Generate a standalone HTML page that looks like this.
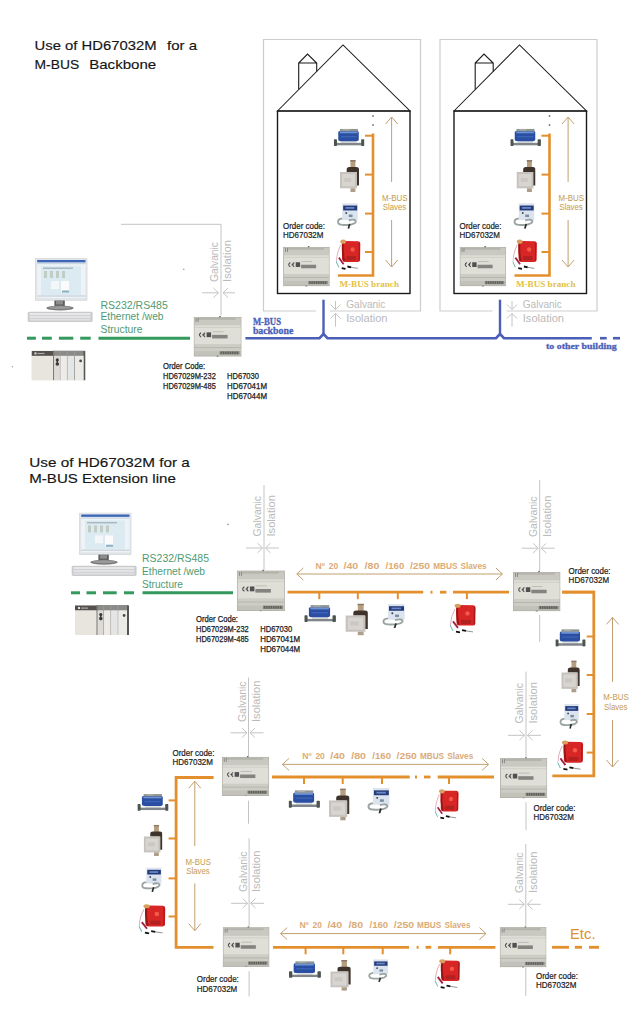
<!DOCTYPE html><html><head><meta charset="utf-8"><style>html,body{margin:0;padding:0;background:#fff;overflow:hidden}svg{display:block}</style></head><body>
<svg width="642" height="1024" viewBox="0 0 642 1024">
<defs>
<symbol id="dev" viewBox="0 0 48 41" preserveAspectRatio="none">
<rect x="0.5" y="1" width="47" height="39.5" fill="#cdcdc5"/>
<rect x="0.5" y="1" width="47" height="8.5" fill="#c9c9c1"/>
<rect x="4" y="1.8" width="38" height="2" fill="#b4b4ac"/>
<rect x="2" y="2" width="1" height="4" fill="#888"/><rect x="4" y="2" width="1" height="4" fill="#888"/>
<rect x="0.5" y="9.5" width="47" height="19" fill="#dfdfd8"/>
<rect x="0.5" y="11" width="47" height="1" fill="#cfcfc7"/>
<rect x="0.5" y="28.5" width="47" height="7" fill="#cdcdc5"/>
<rect x="0.5" y="31.5" width="47" height="0.8" fill="#b0b0a8"/>
<rect x="0.5" y="35.5" width="47" height="5" fill="#c2c2ba"/>
<rect x="25.5" y="-0.5" width="1.6" height="2" fill="#666"/>
<path d="M7.5 16.8 Q4 19 7.5 21.2 M11.5 16.8 Q8 19 11.5 21.2 M8.6 19 L11 19" stroke="#505050" stroke-width="1.1" fill="none"/>
<rect x="13" y="16.5" width="4.5" height="4.8" fill="#505050"/>
<rect x="18.5" y="19" width="15.5" height="3.6" fill="#84847e"/>
<rect x="19" y="15.5" width="11" height="0.8" fill="#b4b4ac"/>
<rect x="26" y="35.5" width="20" height="3.3" fill="#8a8a84"/>
<rect x="27.0" y="35.8" width="1.3" height="2.6" fill="#5e5e58"/><rect x="29.3" y="35.8" width="1.3" height="2.6" fill="#5e5e58"/><rect x="31.6" y="35.8" width="1.3" height="2.6" fill="#5e5e58"/><rect x="33.9" y="35.8" width="1.3" height="2.6" fill="#5e5e58"/><rect x="36.2" y="35.8" width="1.3" height="2.6" fill="#5e5e58"/><rect x="38.5" y="35.8" width="1.3" height="2.6" fill="#5e5e58"/><rect x="40.8" y="35.8" width="1.3" height="2.6" fill="#5e5e58"/><rect x="43.1" y="35.8" width="1.3" height="2.6" fill="#5e5e58"/>
<rect x="23" y="40" width="2" height="1.5" fill="#666"/>
<rect x="0" y="1" width="0.8" height="39.5" fill="#aeaea6"/>
<rect x="47.2" y="1" width="0.8" height="39.5" fill="#aeaea6"/>
<rect x="0" y="40" width="48" height="0.8" fill="#aeaea6"/>
<rect x="0" y="1" width="48" height="0.6" fill="#b0b0a8"/>
</symbol>
<symbol id="wm" viewBox="0 0 31 18" preserveAspectRatio="none">
<rect x="7.5" y="11.5" width="15.5" height="5" fill="#dfe1e4"/>
<rect x="2.5" y="14.5" width="25.5" height="2.5" fill="#80868a"/>
<rect x="0" y="10.8" width="3.2" height="7" rx="0.8" fill="#4c5450"/>
<rect x="27.6" y="10.8" width="3.3" height="7" rx="0.8" fill="#4c5450"/>
<path d="M4.5 4 Q4.5 2.5 6.5 2.5 L23.5 2.5 Q25.2 2.5 25.2 4 L25.2 11 Q25.2 12.8 23 12.8 L6.8 12.8 Q4.5 12.8 4.5 11 Z" fill="#2a4fa2"/>
<rect x="6" y="3" width="18" height="1.8" fill="#7094d2"/>
<rect x="7" y="7.5" width="16" height="1.4" fill="#3c64b6"/>
<rect x="6.2" y="0.4" width="18.2" height="2.3" fill="#8e9490"/>
<rect x="9" y="0.8" width="7" height="1.1" fill="#b0b4ae"/>
</symbol>
<symbol id="hm" viewBox="0 0 18.5 32" preserveAspectRatio="none">
<rect x="10.2" y="0.3" width="4.8" height="7.5" fill="#b69e80"/>
<rect x="10" y="0" width="5.2" height="1.6" fill="#8c7a66"/>
<path d="M6.5 12 L6.5 9.5 Q6.5 7 9 7 L16 7 Q18.5 7 18.5 9.5 L18.5 25.5 L15.8 25.5 L15.8 12 Z" fill="#3e342c"/>
<rect x="0" y="12" width="16.5" height="16.3" fill="#c6c2be"/>
<rect x="2" y="14" width="12.5" height="12.3" fill="#d8d4d0"/>
<rect x="4" y="18" width="7" height="4" fill="#cbc7c3"/>
<rect x="10.2" y="28.3" width="4.8" height="3.7" fill="#ae9e8a"/>
</symbol>
<symbol id="hc" viewBox="0 0 26 26.5" preserveAspectRatio="none">
<rect x="7" y="0.5" width="16.6" height="17" fill="#dae3ee"/>
<rect x="8" y="2.8" width="15" height="5" fill="#263c7a"/>
<rect x="10.5" y="4.3" width="9.5" height="1.8" fill="#6a88c4"/>
<circle cx="11.3" cy="10.5" r="1" fill="#345"/>
<rect x="14" y="12" width="4" height="2.5" fill="#7a8a9a"/>
<path d="M7 16 C1 16.5 1 22.5 7 22.5 C12 23 20 22.5 21.5 19.5 C22 17 18 16.5 14 18" stroke="#9aa4a2" stroke-width="2" fill="none"/>
<path d="M15 21.5 L13.5 26.4" stroke="#2a2a2a" stroke-width="1.8"/>
</symbol>
<symbol id="rd" viewBox="0 0 26.3 30.6" preserveAspectRatio="none">
<path d="M6.4 4.5 Q6.4 2.2 9 2.2 L23.5 2.4 Q25.6 2.6 25.6 5 L25.3 20.5 Q25.2 22.7 22.8 22.7 L10 22.7 Q6.4 22.7 6.4 19 Z" fill="#d82626"/><path d="M24.5 4 L24.3 21.5" stroke="#a81818" stroke-width="1.2"/>
<path d="M7.3 4 Q6.5 12 8.5 22" stroke="#9a1414" stroke-width="2" fill="none"/>
<rect x="11" y="17" width="10" height="4" fill="#b32020"/>
<circle cx="17.5" cy="10.5" r="2.2" fill="#f25a4a"/>
<ellipse cx="7.6" cy="2.9" rx="3" ry="2" fill="#d8a060"/>
<path d="M5 6 Q1 13 0.5 22" stroke="#e0b0b8" stroke-width="1" fill="none"/>
<path d="M3 18.5 L8 25" stroke="#a02040" stroke-width="1.8" fill="none"/>
<path d="M0 22 L3 28" stroke="#70b0b0" stroke-width="1" fill="none"/>
<path d="M6 28.8 L10 29.5" stroke="#111" stroke-width="1.8" fill="none"/>
<path d="M12 27.2 L16 28" stroke="#111" stroke-width="1.8" fill="none"/>
<path d="M16 28 L23 29" stroke="#777" stroke-width="0.8" fill="none"/>
</symbol>
<symbol id="pc" viewBox="0 0 66 64" preserveAspectRatio="none">
<rect x="8" y="0" width="52.4" height="42.8" rx="1" fill="#d3d7db"/>
<rect x="8.6" y="0.6" width="51.2" height="41.6" rx="1" fill="#e2e5e8"/>
<rect x="10.2" y="2" width="48.3" height="38" fill="#eef3f8"/>
<rect x="10.2" y="2" width="48.3" height="2.4" fill="#3f66b6"/>
<rect x="10.2" y="5" width="48.3" height="1.2" fill="#c8d4e0"/>
<rect x="14" y="8" width="40" height="29" fill="#dceaf2"/>
<rect x="16" y="9.5" width="30" height="1.5" fill="#a8b8c0"/>
<rect x="17" y="13" width="3" height="7" fill="#c0ccc4"/>
<rect x="23" y="13" width="3" height="7" fill="#c0ccc4"/>
<rect x="29" y="13" width="3" height="7" fill="#c0ccc4"/>
<rect x="35" y="13" width="3" height="7" fill="#c0ccc4"/>
<rect x="24" y="23" width="8" height="8" fill="#f4f6f8"/>
<rect x="34" y="23" width="8" height="11" fill="#fbfbfb"/>
<rect x="35" y="32.5" width="7" height="2" fill="#8ab0c0"/>
<rect x="10.2" y="37.5" width="48.3" height="1" fill="#c0c8d0"/>
<rect x="27.4" y="42.5" width="10.4" height="6.5" fill="#5c5c5c"/>
<rect x="29" y="43" width="7" height="3.5" fill="#8c8c8c"/>
<ellipse cx="33" cy="50.1" rx="13.6" ry="2.5" fill="#7c7c7c"/>
<ellipse cx="33" cy="49.6" rx="11" ry="1.5" fill="#9a9a9a"/>
<rect x="0.7" y="53.7" width="64.9" height="10.3" rx="1.5" fill="#c9cbcd"/>
<rect x="2.5" y="55" width="61" height="2.2" fill="#e8e8ea"/>
<rect x="2.5" y="58" width="61" height="2.2" fill="#e4e4e6"/>
<rect x="2.5" y="61" width="61" height="1.6" fill="#e0e0e2"/>
</symbol>
<symbol id="plc" viewBox="0 0 54 30" preserveAspectRatio="none">
<rect x="0" y="0.5" width="54" height="29.5" fill="#e2ded8"/>
<rect x="0" y="0.5" width="22" height="5" fill="#55504c"/>
<rect x="3" y="2" width="2" height="2" fill="#ddd"/>
<rect x="6" y="2.5" width="7" height="1.2" fill="#aaa"/>
<rect x="0" y="5.5" width="21.5" height="24.5" fill="#e8e4de"/>
<rect x="22" y="0" width="31" height="5.5" fill="#8a8a88"/>
<rect x="21.5" y="0" width="1.2" height="30" fill="#7a7a78"/>
<rect x="28.2" y="0" width="0.9" height="30" fill="#9a9a98"/>
<rect x="35.3" y="0" width="0.9" height="30" fill="#9a9a98"/>
<rect x="42.5" y="0" width="0.9" height="30" fill="#9a9a98"/>
<rect x="52" y="0.5" width="2" height="29.5" fill="#555553"/>
<rect x="22.7" y="5.5" width="5.5" height="24.5" fill="#dedad6"/>
<rect x="29.1" y="5.5" width="6.2" height="24.5" fill="#ecebe8"/>
<rect x="36.2" y="5.5" width="6.3" height="24.5" fill="#e4e6e6"/>
<rect x="43.4" y="5.5" width="8.6" height="24.5" fill="#eaeae6"/>
<circle cx="25.8" cy="9.5" r="1.6" fill="#3a3a3a"/>
<path d="M25.8 10 L25.8 13" stroke="#3a3a3a" stroke-width="1.4"/>
<circle cx="25.8" cy="13.6" r="1.8" fill="#3a3a3a"/>
<circle cx="49.1" cy="10.5" r="1.4" fill="#4a4a4a"/>
</symbol>
</defs>
<text style="white-space:pre" x="34.5" y="50.2" font-size="13.4" fill="#151515" font-weight="normal" font-family='"Liberation Sans", sans-serif' textLength="122" lengthAdjust="spacingAndGlyphs" stroke="#151515" stroke-width="0.15">Use of HD67032M</text>
<text style="white-space:pre" x="167" y="50.2" font-size="13.4" fill="#151515" font-weight="normal" font-family='"Liberation Sans", sans-serif' textLength="30" lengthAdjust="spacingAndGlyphs" stroke="#151515" stroke-width="0.15">for a</text>
<text style="white-space:pre" x="34.5" y="68.6" font-size="13.4" fill="#151515" font-weight="normal" font-family='"Liberation Sans", sans-serif' textLength="44.7" lengthAdjust="spacingAndGlyphs" stroke="#151515" stroke-width="0.15">M-BUS</text>
<text style="white-space:pre" x="89.2" y="68.6" font-size="13.4" fill="#151515" font-weight="normal" font-family='"Liberation Sans", sans-serif' textLength="67" lengthAdjust="spacingAndGlyphs" stroke="#151515" stroke-width="0.15">Backbone</text>
<g transform="translate(0,0)">
<path d="M316 311 L263.5 311 L263.5 39.5 L420.5 39.5 L420.5 311 L330 311" stroke="#cdcdcd" stroke-width="1.2" fill="none" />
<path d="M277.5 111 L343 45 L410 111 Z" stroke="#1a1a1a" stroke-width="1.05" fill="none" />
<rect x="277.5" y="111" width="132.5" height="182.5" fill="none" stroke="#1a1a1a" stroke-width="1.4"/>
<path d="M298.7 89.6 L298.7 63 L307.5 54 L316.7 63 L316.7 71.5 M298.7 63 L316.7 63" stroke="#1a1a1a" stroke-width="1.1" fill="none" />
<circle cx="373" cy="116" r="0.9" fill="#777"/><circle cx="373" cy="125" r="0.9" fill="#777"/>
<path d="M373 133.6 L373 275.5 L338 275.5" stroke="#e38f2e" stroke-width="2.6" fill="none" />
<line x1="365" y1="135.7" x2="373" y2="135.7" stroke="#e38f2e" stroke-width="2" />
<line x1="365" y1="174.6" x2="373" y2="174.6" stroke="#e38f2e" stroke-width="2" />
<line x1="365" y1="213.6" x2="373" y2="213.6" stroke="#e38f2e" stroke-width="2" />
<line x1="365" y1="252" x2="373" y2="252" stroke="#e38f2e" stroke-width="2" />
<use href="#wm" x="333.8" y="128.5" width="30.7" height="17.8"/>
<use href="#hm" x="340" y="160" width="19" height="32"/>
<use href="#hc" x="335.7" y="202.8" width="24.3" height="26"/>
<use href="#rd" x="336" y="238.7" width="25" height="31.3"/>
<path d="M391.6 182 L391.6 117 M385.6 124 L391.6 117 L397.6 124" stroke="#c2a070" stroke-width="1" fill="none" />
<path d="M391.6 220 L391.6 267 M385.6 260 L391.6 267 L397.6 260" stroke="#c2a070" stroke-width="1" fill="none" />
<text style="white-space:pre" x="382" y="201" font-size="9.5" fill="#c49a50" font-weight="normal" font-family='"Liberation Sans", sans-serif' textLength="25.5" lengthAdjust="spacingAndGlyphs" >M-BUS</text>
<text style="white-space:pre" x="382.7" y="209.8" font-size="9.5" fill="#c49a50" font-weight="normal" font-family='"Liberation Sans", sans-serif' textLength="23.5" lengthAdjust="spacingAndGlyphs" >Slaves</text>
<text style="white-space:pre" x="339.4" y="287" font-size="9.2" fill="#e2c244" font-weight="bold" font-family='"Liberation Serif", serif' textLength="59.6" lengthAdjust="spacingAndGlyphs" >M-BUS branch</text>
<text style="white-space:pre" x="283" y="229" font-size="9.6" fill="#1a1a1a" font-weight="normal" font-family='"Liberation Sans", sans-serif' textLength="42" lengthAdjust="spacingAndGlyphs" stroke="#1a1a1a" stroke-width="0.22">Order code:</text>
<text style="white-space:pre" x="283" y="238.4" font-size="9.6" fill="#1a1a1a" font-weight="normal" font-family='"Liberation Sans", sans-serif' textLength="40.5" lengthAdjust="spacingAndGlyphs" stroke="#1a1a1a" stroke-width="0.22">HD67032M</text>
<use href="#dev" x="283.1" y="246" width="46.6" height="40.4"/>
<text style="white-space:pre" x="346.3" y="308.4" font-size="11" fill="#bababa" font-weight="normal" font-family='"Liberation Sans", sans-serif' textLength="39" lengthAdjust="spacingAndGlyphs" >Galvanic</text>
<text style="white-space:pre" x="346.3" y="322" font-size="11" fill="#bababa" font-weight="normal" font-family='"Liberation Sans", sans-serif' textLength="41.2" lengthAdjust="spacingAndGlyphs" >Isolation</text>
<path d="M335.5 301 L335.5 309.5 M330.5 304.5 L335.5 309.5 L340.5 304.5" stroke="#c4c4c4" stroke-width="1" fill="none" />
<path d="M335.5 326.6 L335.5 313.4 M330.5 318.5 L335.5 313.4 L340.5 318.5" stroke="#c4c4c4" stroke-width="1" fill="none" />
<line x1="323.5" y1="299.7" x2="323.5" y2="334.5" stroke="#4b5fb8" stroke-width="2.4" />
</g>
<g transform="translate(176.5,0)">
<path d="M316 311 L263.5 311 L263.5 39.5 L420.5 39.5 L420.5 311 L330 311" stroke="#cdcdcd" stroke-width="1.2" fill="none" />
<path d="M277.5 111 L343 45 L410 111 Z" stroke="#1a1a1a" stroke-width="1.05" fill="none" />
<rect x="277.5" y="111" width="132.5" height="182.5" fill="none" stroke="#1a1a1a" stroke-width="1.4"/>
<path d="M298.7 89.6 L298.7 63 L307.5 54 L316.7 63 L316.7 71.5 M298.7 63 L316.7 63" stroke="#1a1a1a" stroke-width="1.1" fill="none" />
<circle cx="373" cy="116" r="0.9" fill="#777"/><circle cx="373" cy="125" r="0.9" fill="#777"/>
<path d="M373 133.6 L373 275.5 L338 275.5" stroke="#e38f2e" stroke-width="2.6" fill="none" />
<line x1="365" y1="135.7" x2="373" y2="135.7" stroke="#e38f2e" stroke-width="2" />
<line x1="365" y1="174.6" x2="373" y2="174.6" stroke="#e38f2e" stroke-width="2" />
<line x1="365" y1="213.6" x2="373" y2="213.6" stroke="#e38f2e" stroke-width="2" />
<line x1="365" y1="252" x2="373" y2="252" stroke="#e38f2e" stroke-width="2" />
<use href="#wm" x="333.8" y="128.5" width="30.7" height="17.8"/>
<use href="#hm" x="340" y="160" width="19" height="32"/>
<use href="#hc" x="335.7" y="202.8" width="24.3" height="26"/>
<use href="#rd" x="336" y="238.7" width="25" height="31.3"/>
<path d="M391.6 182 L391.6 117 M385.6 124 L391.6 117 L397.6 124" stroke="#c2a070" stroke-width="1" fill="none" />
<path d="M391.6 220 L391.6 267 M385.6 260 L391.6 267 L397.6 260" stroke="#c2a070" stroke-width="1" fill="none" />
<text style="white-space:pre" x="382" y="201" font-size="9.5" fill="#c49a50" font-weight="normal" font-family='"Liberation Sans", sans-serif' textLength="25.5" lengthAdjust="spacingAndGlyphs" >M-BUS</text>
<text style="white-space:pre" x="382.7" y="209.8" font-size="9.5" fill="#c49a50" font-weight="normal" font-family='"Liberation Sans", sans-serif' textLength="23.5" lengthAdjust="spacingAndGlyphs" >Slaves</text>
<text style="white-space:pre" x="339.4" y="287" font-size="9.2" fill="#e2c244" font-weight="bold" font-family='"Liberation Serif", serif' textLength="59.6" lengthAdjust="spacingAndGlyphs" >M-BUS branch</text>
<text style="white-space:pre" x="283" y="229" font-size="9.6" fill="#1a1a1a" font-weight="normal" font-family='"Liberation Sans", sans-serif' textLength="42" lengthAdjust="spacingAndGlyphs" stroke="#1a1a1a" stroke-width="0.22">Order code:</text>
<text style="white-space:pre" x="283" y="238.4" font-size="9.6" fill="#1a1a1a" font-weight="normal" font-family='"Liberation Sans", sans-serif' textLength="40.5" lengthAdjust="spacingAndGlyphs" stroke="#1a1a1a" stroke-width="0.22">HD67032M</text>
<use href="#dev" x="283.1" y="246" width="46.6" height="40.4"/>
<text style="white-space:pre" x="346.3" y="308.4" font-size="11" fill="#bababa" font-weight="normal" font-family='"Liberation Sans", sans-serif' textLength="39" lengthAdjust="spacingAndGlyphs" >Galvanic</text>
<text style="white-space:pre" x="346.3" y="322" font-size="11" fill="#bababa" font-weight="normal" font-family='"Liberation Sans", sans-serif' textLength="41.2" lengthAdjust="spacingAndGlyphs" >Isolation</text>
<path d="M335.5 301 L335.5 309.5 M330.5 304.5 L335.5 309.5 L340.5 304.5" stroke="#c4c4c4" stroke-width="1" fill="none" />
<path d="M335.5 326.6 L335.5 313.4 M330.5 318.5 L335.5 313.4 L340.5 318.5" stroke="#c4c4c4" stroke-width="1" fill="none" />
<line x1="323.5" y1="299.7" x2="323.5" y2="334.5" stroke="#4b5fb8" stroke-width="2.4" />
</g>
<path d="M245.4 338.2 L319.5 338.2 L323.5 334 L327.5 338.2 L496 338.2 L500 334 L504 338.2 L591.8 338.2" stroke="#4b5fb8" stroke-width="2.6" fill="none" stroke-linejoin="miter"/>
<line x1="600" y1="338.2" x2="606.7" y2="338.2" stroke="#4b5fb8" stroke-width="2.6" />
<line x1="613" y1="338.2" x2="620" y2="338.2" stroke="#4b5fb8" stroke-width="2.6" />
<text style="white-space:pre" x="252.9" y="324.8" font-size="9.8" fill="#4b5fb8" font-weight="bold" font-family='"Liberation Serif", serif' textLength="28.1" lengthAdjust="spacingAndGlyphs" stroke="#4b5fb8" stroke-width="0.3">M-BUS</text>
<text style="white-space:pre" x="252.9" y="333.7" font-size="9.8" fill="#4b5fb8" font-weight="bold" font-family='"Liberation Serif", serif' textLength="40.4" lengthAdjust="spacingAndGlyphs" stroke="#4b5fb8" stroke-width="0.3">backbone</text>
<text style="white-space:pre" x="546" y="348.8" font-size="9.2" fill="#4b5fb8" font-weight="bold" font-family='"Liberation Serif", serif' textLength="70.6" lengthAdjust="spacingAndGlyphs" stroke="#4b5fb8" stroke-width="0.3">to other building</text>
<use href="#pc" x="27" y="258" width="66" height="64"/>
<use href="#plc" x="31.5" y="350.4" width="54" height="30"/>
<line x1="27" y1="338.2" x2="35.9" y2="338.2" stroke="#33995c" stroke-width="3" />
<line x1="42" y1="338.2" x2="51.8" y2="338.2" stroke="#33995c" stroke-width="3" />
<line x1="58.9" y1="338.2" x2="73.3" y2="338.2" stroke="#33995c" stroke-width="3" />
<line x1="80.2" y1="338.2" x2="90.7" y2="338.2" stroke="#33995c" stroke-width="3" />
<line x1="98.5" y1="338.2" x2="190" y2="338.2" stroke="#33995c" stroke-width="3" />
<text style="white-space:pre" x="100.5" y="308.7" font-size="10.5" fill="#4f9a72" font-weight="normal" font-family='"Liberation Sans", sans-serif' textLength="67.3" lengthAdjust="spacingAndGlyphs" >RS232/RS485</text>
<text style="white-space:pre" x="100.5" y="320" font-size="10.5" fill="#4f9a72" font-weight="normal" font-family='"Liberation Sans", sans-serif' textLength="63" lengthAdjust="spacingAndGlyphs" >Ethernet /web</text>
<text style="white-space:pre" x="100.5" y="333" font-size="10.5" fill="#4f9a72" font-weight="normal" font-family='"Liberation Sans", sans-serif' textLength="42" lengthAdjust="spacingAndGlyphs" >Structure</text>
<path d="M121 224.3 L221 224.3 L221 315.5" stroke="#c4c4c4" stroke-width="1" fill="none" />
<text transform="translate(217.8,282) rotate(-90)" x="0" y="0" font-size="11" fill="#bababa" font-family='"Liberation Sans", sans-serif' textLength="40" lengthAdjust="spacingAndGlyphs">Galvanic</text>
<text transform="translate(231,282) rotate(-90)" x="0" y="0" font-size="11" fill="#bababa" font-family='"Liberation Sans", sans-serif' textLength="42" lengthAdjust="spacingAndGlyphs">Isolation</text>
<path d="M202 292.8 L218.5 292.8 M213.5 288 L218.5 292.8 L213.5 297.6" stroke="#c4c4c4" stroke-width="1" fill="none" />
<path d="M235 292.8 L223 292.8 M228 288 L223 292.8 L228 297.6" stroke="#c4c4c4" stroke-width="1" fill="none" />
<use href="#dev" x="193.6" y="316" width="48" height="40.7"/>
<text style="white-space:pre" x="163.1" y="369" font-size="8.2" fill="#222" font-weight="normal" font-family='"Liberation Sans", sans-serif' textLength="42" lengthAdjust="spacingAndGlyphs" stroke="#222" stroke-width="0.25">Order Code:</text>
<text style="white-space:pre" x="163.1" y="379.2" font-size="8.2" fill="#222" font-weight="normal" font-family='"Liberation Sans", sans-serif' textLength="52.7" lengthAdjust="spacingAndGlyphs" stroke="#222" stroke-width="0.25">HD67029M-232</text>
<text style="white-space:pre" x="163.1" y="389.4" font-size="8.2" fill="#222" font-weight="normal" font-family='"Liberation Sans", sans-serif' textLength="52.7" lengthAdjust="spacingAndGlyphs" stroke="#222" stroke-width="0.25">HD67029M-485</text>
<text style="white-space:pre" x="227" y="379.2" font-size="8.2" fill="#222" font-weight="normal" font-family='"Liberation Sans", sans-serif' textLength="32" lengthAdjust="spacingAndGlyphs" stroke="#222" stroke-width="0.25">HD67030</text>
<text style="white-space:pre" x="227" y="389.4" font-size="8.2" fill="#222" font-weight="normal" font-family='"Liberation Sans", sans-serif' textLength="40" lengthAdjust="spacingAndGlyphs" stroke="#222" stroke-width="0.25">HD67041M</text>
<text style="white-space:pre" x="227" y="399.4" font-size="8.2" fill="#222" font-weight="normal" font-family='"Liberation Sans", sans-serif' textLength="40" lengthAdjust="spacingAndGlyphs" stroke="#222" stroke-width="0.25">HD67044M</text>
<text style="white-space:pre" x="29.3" y="466.5" font-size="13.4" fill="#151515" font-weight="normal" font-family='"Liberation Sans", sans-serif' textLength="160.5" lengthAdjust="spacingAndGlyphs" stroke="#151515" stroke-width="0.15">Use of HD67032M for a</text>
<text style="white-space:pre" x="29.3" y="483" font-size="13.4" fill="#151515" font-weight="normal" font-family='"Liberation Sans", sans-serif' textLength="146.5" lengthAdjust="spacingAndGlyphs" stroke="#151515" stroke-width="0.15">M-BUS Extension line</text>
<use href="#pc" x="71" y="512.5" width="66" height="63.5"/>
<use href="#plc" x="75" y="605" width="54" height="30"/>
<line x1="71" y1="592.8" x2="80" y2="592.8" stroke="#33995c" stroke-width="3" />
<line x1="86.5" y1="592.8" x2="96" y2="592.8" stroke="#33995c" stroke-width="3" />
<line x1="103" y1="592.8" x2="116.7" y2="592.8" stroke="#33995c" stroke-width="3" />
<line x1="124" y1="592.8" x2="134" y2="592.8" stroke="#33995c" stroke-width="3" />
<line x1="142.5" y1="592.8" x2="233" y2="592.8" stroke="#33995c" stroke-width="3" />
<text style="white-space:pre" x="142" y="562.3" font-size="10.5" fill="#4f9a72" font-weight="normal" font-family='"Liberation Sans", sans-serif' textLength="67" lengthAdjust="spacingAndGlyphs" >RS232/RS485</text>
<text style="white-space:pre" x="142" y="575.4" font-size="10.5" fill="#4f9a72" font-weight="normal" font-family='"Liberation Sans", sans-serif' textLength="63" lengthAdjust="spacingAndGlyphs" >Ethernet /web</text>
<text style="white-space:pre" x="142" y="588" font-size="10.5" fill="#4f9a72" font-weight="normal" font-family='"Liberation Sans", sans-serif' textLength="41" lengthAdjust="spacingAndGlyphs" >Structure</text>
<text style="white-space:pre" x="196" y="622" font-size="8.2" fill="#222" font-weight="normal" font-family='"Liberation Sans", sans-serif' textLength="42" lengthAdjust="spacingAndGlyphs" stroke="#222" stroke-width="0.25">Order Code:</text>
<text style="white-space:pre" x="196" y="632.2" font-size="8.2" fill="#222" font-weight="normal" font-family='"Liberation Sans", sans-serif' textLength="52.7" lengthAdjust="spacingAndGlyphs" stroke="#222" stroke-width="0.25">HD67029M-232</text>
<text style="white-space:pre" x="196" y="642.4" font-size="8.2" fill="#222" font-weight="normal" font-family='"Liberation Sans", sans-serif' textLength="52.7" lengthAdjust="spacingAndGlyphs" stroke="#222" stroke-width="0.25">HD67029M-485</text>
<text style="white-space:pre" x="260.2" y="632.2" font-size="8.2" fill="#222" font-weight="normal" font-family='"Liberation Sans", sans-serif' textLength="32" lengthAdjust="spacingAndGlyphs" stroke="#222" stroke-width="0.25">HD67030</text>
<text style="white-space:pre" x="260.2" y="642.4" font-size="8.2" fill="#222" font-weight="normal" font-family='"Liberation Sans", sans-serif' textLength="40" lengthAdjust="spacingAndGlyphs" stroke="#222" stroke-width="0.25">HD67041M</text>
<text style="white-space:pre" x="260.2" y="652.4" font-size="8.2" fill="#222" font-weight="normal" font-family='"Liberation Sans", sans-serif' textLength="40" lengthAdjust="spacingAndGlyphs" stroke="#222" stroke-width="0.25">HD67044M</text>
<line x1="264" y1="485" x2="264" y2="570" stroke="#c4c4c4" stroke-width="1" />
<text transform="translate(261.4,536.5) rotate(-90)" x="0" y="0" font-size="11" fill="#bababa" font-family='"Liberation Sans", sans-serif' textLength="40.5" lengthAdjust="spacingAndGlyphs">Galvanic</text>
<text transform="translate(275,536.5) rotate(-90)" x="0" y="0" font-size="11" fill="#bababa" font-family='"Liberation Sans", sans-serif' textLength="41.5" lengthAdjust="spacingAndGlyphs">Isolation</text>
<path d="M246 548 L262.5 548 M257.5 543.2 L262.5 548 L257.5 552.8" stroke="#c4c4c4" stroke-width="1" fill="none" />
<path d="M279 548 L265.5 548 M270.5 543.2 L265.5 548 L270.5 552.8" stroke="#c4c4c4" stroke-width="1" fill="none" />
<line x1="539.7" y1="480" x2="539.7" y2="571" stroke="#c4c4c4" stroke-width="1" />
<line x1="539.7" y1="614.8" x2="539.7" y2="642" stroke="#c4c4c4" stroke-width="1" />
<text transform="translate(537.1,537) rotate(-90)" x="0" y="0" font-size="11" fill="#bababa" font-family='"Liberation Sans", sans-serif' textLength="40.5" lengthAdjust="spacingAndGlyphs">Galvanic</text>
<text transform="translate(550.7,537) rotate(-90)" x="0" y="0" font-size="11" fill="#bababa" font-family='"Liberation Sans", sans-serif' textLength="41.5" lengthAdjust="spacingAndGlyphs">Isolation</text>
<path d="M521.7 548.2 L538.2 548.2 M533.2 543.4000000000001 L538.2 548.2 L533.2 553.0" stroke="#c4c4c4" stroke-width="1" fill="none" />
<path d="M554.7 548.2 L541.2 548.2 M546.2 543.4000000000001 L541.2 548.2 L546.2 553.0" stroke="#c4c4c4" stroke-width="1" fill="none" />
<line x1="248.5" y1="677.6" x2="248.5" y2="756" stroke="#c4c4c4" stroke-width="1" />
<line x1="248.5" y1="800.7" x2="248.5" y2="823.7" stroke="#c4c4c4" stroke-width="1" />
<text transform="translate(245.9,722) rotate(-90)" x="0" y="0" font-size="11" fill="#bababa" font-family='"Liberation Sans", sans-serif' textLength="40.5" lengthAdjust="spacingAndGlyphs">Galvanic</text>
<text transform="translate(259.5,722) rotate(-90)" x="0" y="0" font-size="11" fill="#bababa" font-family='"Liberation Sans", sans-serif' textLength="41.5" lengthAdjust="spacingAndGlyphs">Isolation</text>
<path d="M230.5 732.8 L247.0 732.8 M242.0 728.0 L247.0 732.8 L242.0 737.5999999999999" stroke="#c4c4c4" stroke-width="1" fill="none" />
<path d="M263.5 732.8 L250.0 732.8 M255.0 728.0 L250.0 732.8 L255.0 737.5999999999999" stroke="#c4c4c4" stroke-width="1" fill="none" />
<line x1="526" y1="671.6" x2="526" y2="757.5" stroke="#c4c4c4" stroke-width="1" />
<line x1="526" y1="802.3" x2="526" y2="830.2" stroke="#c4c4c4" stroke-width="1" />
<text transform="translate(523.4,723.6) rotate(-90)" x="0" y="0" font-size="11" fill="#bababa" font-family='"Liberation Sans", sans-serif' textLength="40.5" lengthAdjust="spacingAndGlyphs">Galvanic</text>
<text transform="translate(537,723.6) rotate(-90)" x="0" y="0" font-size="11" fill="#bababa" font-family='"Liberation Sans", sans-serif' textLength="41.5" lengthAdjust="spacingAndGlyphs">Isolation</text>
<path d="M508 735.3 L524.5 735.3 M519.5 730.5 L524.5 735.3 L519.5 740.0999999999999" stroke="#c4c4c4" stroke-width="1" fill="none" />
<path d="M541 735.3 L527.5 735.3 M532.5 730.5 L527.5 735.3 L532.5 740.0999999999999" stroke="#c4c4c4" stroke-width="1" fill="none" />
<line x1="249.1" y1="838.4" x2="249.1" y2="926.8" stroke="#c4c4c4" stroke-width="1" />
<line x1="249.1" y1="971.2" x2="249.1" y2="996.4" stroke="#c4c4c4" stroke-width="1" />
<text transform="translate(246.5,892) rotate(-90)" x="0" y="0" font-size="11" fill="#bababa" font-family='"Liberation Sans", sans-serif' textLength="40.5" lengthAdjust="spacingAndGlyphs">Galvanic</text>
<text transform="translate(260.1,892) rotate(-90)" x="0" y="0" font-size="11" fill="#bababa" font-family='"Liberation Sans", sans-serif' textLength="41.5" lengthAdjust="spacingAndGlyphs">Isolation</text>
<path d="M231.1 903.3 L247.6 903.3 M242.6 898.5 L247.6 903.3 L242.6 908.0999999999999" stroke="#c4c4c4" stroke-width="1" fill="none" />
<path d="M264.1 903.3 L250.6 903.3 M255.6 898.5 L250.6 903.3 L255.6 908.0999999999999" stroke="#c4c4c4" stroke-width="1" fill="none" />
<line x1="525.8" y1="844" x2="525.8" y2="926.8" stroke="#c4c4c4" stroke-width="1" />
<line x1="525.8" y1="967.5" x2="525.8" y2="995.9" stroke="#c4c4c4" stroke-width="1" />
<text transform="translate(523.1999999999999,893) rotate(-90)" x="0" y="0" font-size="11" fill="#bababa" font-family='"Liberation Sans", sans-serif' textLength="40.5" lengthAdjust="spacingAndGlyphs">Galvanic</text>
<text transform="translate(536.8,893) rotate(-90)" x="0" y="0" font-size="11" fill="#bababa" font-family='"Liberation Sans", sans-serif' textLength="41.5" lengthAdjust="spacingAndGlyphs">Isolation</text>
<path d="M507.79999999999995 904.3 L524.3 904.3 M519.3 899.5 L524.3 904.3 L519.3 909.0999999999999" stroke="#c4c4c4" stroke-width="1" fill="none" />
<path d="M540.8 904.3 L527.3 904.3 M532.3 899.5 L527.3 904.3 L532.3 909.0999999999999" stroke="#c4c4c4" stroke-width="1" fill="none" />
<line x1="287.5" y1="592.2" x2="423.2" y2="592.2" stroke="#e38f2e" stroke-width="2.8" />
<line x1="430.5" y1="592.2" x2="432.5" y2="592.2" stroke="#e38f2e" stroke-width="2.8" />
<line x1="440" y1="592.2" x2="446.4" y2="592.2" stroke="#e38f2e" stroke-width="2.8" />
<line x1="453" y1="592.2" x2="509" y2="592.2" stroke="#e38f2e" stroke-width="2.8" />
<line x1="562.2" y1="592.2" x2="595" y2="592.2" stroke="#e38f2e" stroke-width="2.8" />
<line x1="319.3" y1="592.2" x2="319.3" y2="599.2" stroke="#e38f2e" stroke-width="2" />
<line x1="357.8" y1="592.2" x2="357.8" y2="599.2" stroke="#e38f2e" stroke-width="2" />
<line x1="397.8" y1="592.2" x2="397.8" y2="599.2" stroke="#e38f2e" stroke-width="2" />
<line x1="466.9" y1="592.2" x2="466.9" y2="599.2" stroke="#e38f2e" stroke-width="2" />
<line x1="272" y1="777" x2="409.7" y2="777" stroke="#e38f2e" stroke-width="2.8" />
<line x1="415" y1="777" x2="417" y2="777" stroke="#e38f2e" stroke-width="2.8" />
<line x1="424" y1="777" x2="430.5" y2="777" stroke="#e38f2e" stroke-width="2.8" />
<line x1="437.7" y1="777" x2="494" y2="777" stroke="#e38f2e" stroke-width="2.8" />
<line x1="304" y1="777" x2="304" y2="784" stroke="#e38f2e" stroke-width="2" />
<line x1="342.7" y1="777" x2="342.7" y2="784" stroke="#e38f2e" stroke-width="2" />
<line x1="382" y1="777" x2="382" y2="784" stroke="#e38f2e" stroke-width="2" />
<line x1="449" y1="777" x2="449" y2="784" stroke="#e38f2e" stroke-width="2" />
<line x1="273" y1="947.3" x2="409" y2="947.3" stroke="#e38f2e" stroke-width="2.8" />
<line x1="416.6" y1="947.3" x2="418.6" y2="947.3" stroke="#e38f2e" stroke-width="2.8" />
<line x1="425.5" y1="947.3" x2="431.3" y2="947.3" stroke="#e38f2e" stroke-width="2.8" />
<line x1="438" y1="947.3" x2="495.4" y2="947.3" stroke="#e38f2e" stroke-width="2.8" />
<line x1="552" y1="947.3" x2="569" y2="947.3" stroke="#e38f2e" stroke-width="2.8" />
<line x1="574.8" y1="947.3" x2="582" y2="947.3" stroke="#e38f2e" stroke-width="2.8" />
<line x1="589" y1="947.3" x2="599" y2="947.3" stroke="#e38f2e" stroke-width="2.8" />
<line x1="305.6" y1="947.3" x2="305.6" y2="954.3" stroke="#e38f2e" stroke-width="2" />
<line x1="343.3" y1="947.3" x2="343.3" y2="954.3" stroke="#e38f2e" stroke-width="2" />
<line x1="382.7" y1="947.3" x2="382.7" y2="954.3" stroke="#e38f2e" stroke-width="2" />
<line x1="450.2" y1="947.3" x2="450.2" y2="954.3" stroke="#e38f2e" stroke-width="2" />
<path d="M562.2 592.2 L593.8 592.2 L593.8 775.8 L552.3 775.8" stroke="#e38f2e" stroke-width="2.8" fill="none" />
<line x1="586.7" y1="636.5" x2="593.8" y2="636.5" stroke="#e38f2e" stroke-width="2" />
<line x1="586.7" y1="675" x2="593.8" y2="675" stroke="#e38f2e" stroke-width="2" />
<line x1="586.7" y1="714" x2="593.8" y2="714" stroke="#e38f2e" stroke-width="2" />
<line x1="586.7" y1="752.6" x2="593.8" y2="752.6" stroke="#e38f2e" stroke-width="2" />
<path d="M213.6 777.5 L176.1 777.5 L176.1 947.4 L213.5 947.4" stroke="#e38f2e" stroke-width="2.8" fill="none" />
<line x1="168.6" y1="800.4" x2="176.1" y2="800.4" stroke="#e38f2e" stroke-width="2" />
<line x1="168.6" y1="838.5" x2="176.1" y2="838.5" stroke="#e38f2e" stroke-width="2" />
<line x1="168.6" y1="878.4" x2="176.1" y2="878.4" stroke="#e38f2e" stroke-width="2" />
<line x1="168.6" y1="916.5" x2="176.1" y2="916.5" stroke="#e38f2e" stroke-width="2" />
<use href="#wm" x="304.3" y="604.7" width="31.7" height="17.6"/>
<use href="#hm" x="345.4" y="603.6" width="22.5" height="31.8"/>
<use href="#hc" x="381" y="603.6" width="26" height="24.4"/>
<use href="#rd" x="450" y="602.9" width="26.3" height="30.6"/>
<use href="#wm" x="288.6" y="790" width="31.4" height="18"/>
<use href="#hm" x="329" y="788.4" width="20.5" height="32.2"/>
<use href="#hc" x="366" y="787.6" width="25.8" height="25.9"/>
<use href="#rd" x="434.8" y="788.4" width="24.4" height="31.1"/>
<use href="#wm" x="289" y="961" width="32" height="17"/>
<use href="#hm" x="330.3" y="960" width="20.5" height="30.8"/>
<use href="#hc" x="367" y="959" width="23.2" height="23"/>
<use href="#rd" x="434.8" y="958.3" width="25.7" height="30.7"/>
<use href="#wm" x="555.4" y="629" width="30.3" height="17.7"/>
<use href="#hm" x="561.3" y="660.4" width="18.5" height="32.2"/>
<use href="#hc" x="558.3" y="703.4" width="22.5" height="25.4"/>
<use href="#rd" x="557.4" y="739.5" width="26.4" height="31.3"/>
<use href="#wm" x="137.4" y="793.7" width="31.2" height="17.3"/>
<use href="#hm" x="143.7" y="824.8" width="18.7" height="31.2"/>
<use href="#hc" x="140" y="867.2" width="23.6" height="24.8"/>
<use href="#rd" x="138.7" y="903.3" width="27.3" height="31.2"/>
<path d="M296.8 574 L502.4 574 M303.3 568 L296.8 574 L303.3 580 M495.9 568 L502.4 574 L495.9 580" stroke="#c2a070" stroke-width="1" fill="none" />
<text style="white-space:pre" x="315.5" y="568.8" font-size="8.6" fill="#dbab78" font-weight="bold" font-family='"Liberation Sans", sans-serif' textLength="9.4" lengthAdjust="spacingAndGlyphs" >Nº</text>
<text style="white-space:pre" x="328.7" y="568.8" font-size="8.6" fill="#dbab78" font-weight="bold" font-family='"Liberation Sans", sans-serif' textLength="9.4" lengthAdjust="spacingAndGlyphs" >20</text>
<text style="white-space:pre" x="343.5" y="568.8" font-size="8.6" fill="#dbab78" font-weight="bold" font-family='"Liberation Sans", sans-serif' textLength="14.8" lengthAdjust="spacingAndGlyphs" >/40</text>
<text style="white-space:pre" x="364.5" y="568.8" font-size="8.6" fill="#dbab78" font-weight="bold" font-family='"Liberation Sans", sans-serif' textLength="14.9" lengthAdjust="spacingAndGlyphs" >/80</text>
<text style="white-space:pre" x="385.6" y="568.8" font-size="8.6" fill="#dbab78" font-weight="bold" font-family='"Liberation Sans", sans-serif' textLength="18.7" lengthAdjust="spacingAndGlyphs" >/160</text>
<text style="white-space:pre" x="409.9" y="568.8" font-size="8.6" fill="#dbab78" font-weight="bold" font-family='"Liberation Sans", sans-serif' textLength="20.2" lengthAdjust="spacingAndGlyphs" >/250</text>
<text style="white-space:pre" x="433.2" y="568.8" font-size="8.6" fill="#dbab78" font-weight="bold" font-family='"Liberation Sans", sans-serif' textLength="24.2" lengthAdjust="spacingAndGlyphs" >MBUS</text>
<text style="white-space:pre" x="460.5" y="568.8" font-size="8.6" fill="#dbab78" font-weight="bold" font-family='"Liberation Sans", sans-serif' textLength="26.1" lengthAdjust="spacingAndGlyphs" >Slaves</text>
<path d="M282.5 764.4 L488.6 764.4 M289.0 758.4 L282.5 764.4 L289.0 770.4 M482.1 758.4 L488.6 764.4 L482.1 770.4" stroke="#c2a070" stroke-width="1" fill="none" />
<text style="white-space:pre" x="302.2" y="758.6" font-size="8.6" fill="#dbab78" font-weight="bold" font-family='"Liberation Sans", sans-serif' textLength="9.4" lengthAdjust="spacingAndGlyphs" >Nº</text>
<text style="white-space:pre" x="315.4" y="758.6" font-size="8.6" fill="#dbab78" font-weight="bold" font-family='"Liberation Sans", sans-serif' textLength="9.4" lengthAdjust="spacingAndGlyphs" >20</text>
<text style="white-space:pre" x="330.2" y="758.6" font-size="8.6" fill="#dbab78" font-weight="bold" font-family='"Liberation Sans", sans-serif' textLength="14.8" lengthAdjust="spacingAndGlyphs" >/40</text>
<text style="white-space:pre" x="351.2" y="758.6" font-size="8.6" fill="#dbab78" font-weight="bold" font-family='"Liberation Sans", sans-serif' textLength="14.9" lengthAdjust="spacingAndGlyphs" >/80</text>
<text style="white-space:pre" x="372.3" y="758.6" font-size="8.6" fill="#dbab78" font-weight="bold" font-family='"Liberation Sans", sans-serif' textLength="18.7" lengthAdjust="spacingAndGlyphs" >/160</text>
<text style="white-space:pre" x="396.6" y="758.6" font-size="8.6" fill="#dbab78" font-weight="bold" font-family='"Liberation Sans", sans-serif' textLength="20.2" lengthAdjust="spacingAndGlyphs" >/250</text>
<text style="white-space:pre" x="419.9" y="758.6" font-size="8.6" fill="#dbab78" font-weight="bold" font-family='"Liberation Sans", sans-serif' textLength="24.2" lengthAdjust="spacingAndGlyphs" >MBUS</text>
<text style="white-space:pre" x="447.2" y="758.6" font-size="8.6" fill="#dbab78" font-weight="bold" font-family='"Liberation Sans", sans-serif' textLength="26.1" lengthAdjust="spacingAndGlyphs" >Slaves</text>
<path d="M280.6 933.6 L486 933.6 M287.1 927.6 L280.6 933.6 L287.1 939.6 M479.5 927.6 L486 933.6 L479.5 939.6" stroke="#c2a070" stroke-width="1" fill="none" />
<text style="white-space:pre" x="299.4" y="928.4" font-size="8.6" fill="#dbab78" font-weight="bold" font-family='"Liberation Sans", sans-serif' textLength="9.4" lengthAdjust="spacingAndGlyphs" >Nº</text>
<text style="white-space:pre" x="312.6" y="928.4" font-size="8.6" fill="#dbab78" font-weight="bold" font-family='"Liberation Sans", sans-serif' textLength="9.4" lengthAdjust="spacingAndGlyphs" >20</text>
<text style="white-space:pre" x="327.4" y="928.4" font-size="8.6" fill="#dbab78" font-weight="bold" font-family='"Liberation Sans", sans-serif' textLength="14.8" lengthAdjust="spacingAndGlyphs" >/40</text>
<text style="white-space:pre" x="348.4" y="928.4" font-size="8.6" fill="#dbab78" font-weight="bold" font-family='"Liberation Sans", sans-serif' textLength="14.9" lengthAdjust="spacingAndGlyphs" >/80</text>
<text style="white-space:pre" x="369.5" y="928.4" font-size="8.6" fill="#dbab78" font-weight="bold" font-family='"Liberation Sans", sans-serif' textLength="18.7" lengthAdjust="spacingAndGlyphs" >/160</text>
<text style="white-space:pre" x="393.8" y="928.4" font-size="8.6" fill="#dbab78" font-weight="bold" font-family='"Liberation Sans", sans-serif' textLength="20.2" lengthAdjust="spacingAndGlyphs" >/250</text>
<text style="white-space:pre" x="417.1" y="928.4" font-size="8.6" fill="#dbab78" font-weight="bold" font-family='"Liberation Sans", sans-serif' textLength="24.2" lengthAdjust="spacingAndGlyphs" >MBUS</text>
<text style="white-space:pre" x="444.4" y="928.4" font-size="8.6" fill="#dbab78" font-weight="bold" font-family='"Liberation Sans", sans-serif' textLength="26.1" lengthAdjust="spacingAndGlyphs" >Slaves</text>
<path d="M612.5 681.9 L612.5 617.4 M606.5 624.4 L612.5 617.4 L618.5 624.4" stroke="#c2a070" stroke-width="1" fill="none" />
<path d="M612.5 720 L612.5 767 M606.5 760 L612.5 767 L618.5 760" stroke="#c2a070" stroke-width="1" fill="none" />
<text style="white-space:pre" x="603.3" y="700.4" font-size="9.5" fill="#c49a50" font-weight="normal" font-family='"Liberation Sans", sans-serif' textLength="25.4" lengthAdjust="spacingAndGlyphs" >M-BUS</text>
<text style="white-space:pre" x="604.0" y="709.6" font-size="9.5" fill="#c49a50" font-weight="normal" font-family='"Liberation Sans", sans-serif' textLength="23.5" lengthAdjust="spacingAndGlyphs" >Slaves</text>
<path d="M194.8 846 L194.8 781.2 M188.8 788.2 L194.8 781.2 L200.8 788.2" stroke="#c2a070" stroke-width="1" fill="none" />
<path d="M194.8 883.4 L194.8 930.7 M188.8 923.7 L194.8 930.7 L200.8 923.7" stroke="#c2a070" stroke-width="1" fill="none" />
<text style="white-space:pre" x="185.5" y="864.7" font-size="9.5" fill="#c49a50" font-weight="normal" font-family='"Liberation Sans", sans-serif' textLength="25.4" lengthAdjust="spacingAndGlyphs" >M-BUS</text>
<text style="white-space:pre" x="186.2" y="873.9000000000001" font-size="9.5" fill="#c49a50" font-weight="normal" font-family='"Liberation Sans", sans-serif' textLength="23.5" lengthAdjust="spacingAndGlyphs" >Slaves</text>
<use href="#dev" x="236.9" y="569.8" width="48" height="41.4"/>
<use href="#dev" x="513" y="571" width="47.5" height="40.4"/>
<use href="#dev" x="221.8" y="756" width="47.4" height="40"/>
<use href="#dev" x="500" y="757.2" width="47.3" height="41"/>
<use href="#dev" x="222.7" y="926.5" width="46.8" height="40.4"/>
<use href="#dev" x="499.7" y="926.4" width="46.8" height="41"/>
<text style="white-space:pre" x="568.6" y="573.5" font-size="9.6" fill="#1a1a1a" font-weight="normal" font-family='"Liberation Sans", sans-serif' textLength="42" lengthAdjust="spacingAndGlyphs" stroke="#1a1a1a" stroke-width="0.22">Order code:</text>
<text style="white-space:pre" x="568.6" y="582.7" font-size="9.6" fill="#1a1a1a" font-weight="normal" font-family='"Liberation Sans", sans-serif' textLength="40.5" lengthAdjust="spacingAndGlyphs" stroke="#1a1a1a" stroke-width="0.22">HD67032M</text>
<text style="white-space:pre" x="172.5" y="756" font-size="9.6" fill="#1a1a1a" font-weight="normal" font-family='"Liberation Sans", sans-serif' textLength="42" lengthAdjust="spacingAndGlyphs" stroke="#1a1a1a" stroke-width="0.22">Order code:</text>
<text style="white-space:pre" x="172.5" y="765.2" font-size="9.6" fill="#1a1a1a" font-weight="normal" font-family='"Liberation Sans", sans-serif' textLength="40.5" lengthAdjust="spacingAndGlyphs" stroke="#1a1a1a" stroke-width="0.22">HD67032M</text>
<text style="white-space:pre" x="533.5" y="810.8" font-size="9.6" fill="#1a1a1a" font-weight="normal" font-family='"Liberation Sans", sans-serif' textLength="42" lengthAdjust="spacingAndGlyphs" stroke="#1a1a1a" stroke-width="0.22">Order code:</text>
<text style="white-space:pre" x="533.5" y="820.0" font-size="9.6" fill="#1a1a1a" font-weight="normal" font-family='"Liberation Sans", sans-serif' textLength="40.5" lengthAdjust="spacingAndGlyphs" stroke="#1a1a1a" stroke-width="0.22">HD67032M</text>
<text style="white-space:pre" x="196.8" y="982.3" font-size="9.6" fill="#1a1a1a" font-weight="normal" font-family='"Liberation Sans", sans-serif' textLength="42" lengthAdjust="spacingAndGlyphs" stroke="#1a1a1a" stroke-width="0.22">Order code:</text>
<text style="white-space:pre" x="196.8" y="991.5" font-size="9.6" fill="#1a1a1a" font-weight="normal" font-family='"Liberation Sans", sans-serif' textLength="40.5" lengthAdjust="spacingAndGlyphs" stroke="#1a1a1a" stroke-width="0.22">HD67032M</text>
<text style="white-space:pre" x="536" y="978.9" font-size="9.6" fill="#1a1a1a" font-weight="normal" font-family='"Liberation Sans", sans-serif' textLength="42" lengthAdjust="spacingAndGlyphs" stroke="#1a1a1a" stroke-width="0.22">Order code:</text>
<text style="white-space:pre" x="536" y="988.1" font-size="9.6" fill="#1a1a1a" font-weight="normal" font-family='"Liberation Sans", sans-serif' textLength="40.5" lengthAdjust="spacingAndGlyphs" stroke="#1a1a1a" stroke-width="0.22">HD67032M</text>
<text style="white-space:pre" x="570" y="939.2" font-size="14.5" fill="#e0902e" font-weight="normal" font-family='"Liberation Sans", sans-serif' textLength="25.5" lengthAdjust="spacingAndGlyphs" >Etc.</text>
<circle cx="183.8" cy="269.3" r="0.8" fill="#999"/><circle cx="12.5" cy="366.8" r="0.8" fill="#aaa"/><circle cx="228" cy="524.4" r="0.8" fill="#999"/>
</svg></body></html>
